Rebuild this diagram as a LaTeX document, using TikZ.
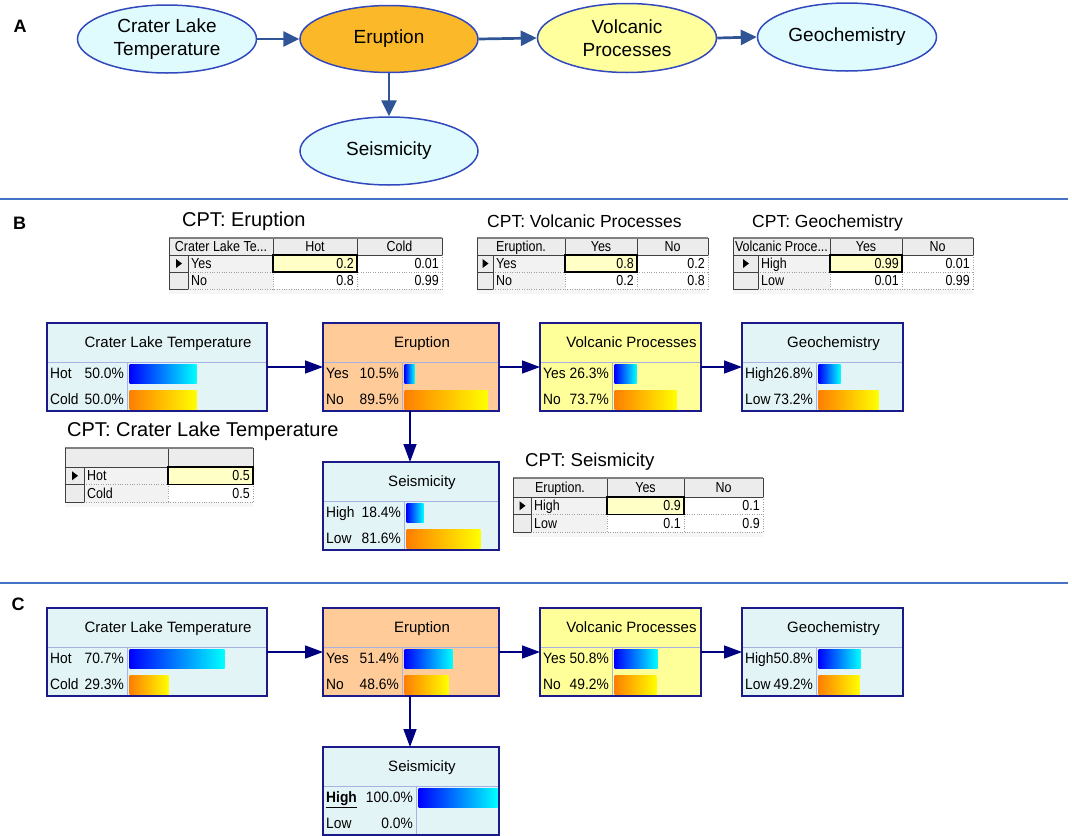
\documentclass[tikz,border=0pt]{standalone}
\usepackage{fontspec}
\setmainfont{Liberation Sans}
\newfontfamily\rowfont[FakeStretch=0.92]{Liberation Sans}
\newfontfamily\tabfont[FakeStretch=0.86]{Liberation Sans}
\usetikzlibrary{shapes.geometric,arrows.meta}

\definecolor{cyanfill}{HTML}{E3F4F7}
\definecolor{peach}{HTML}{FFCC99}
\definecolor{lyellow}{HTML}{FFFF99}
\definecolor{boxnavy}{HTML}{1A1A8A}
\definecolor{arrnavy}{HTML}{000080}
\definecolor{divlav}{HTML}{A9B1E3}
\definecolor{ellborder}{HTML}{3149BD}
\definecolor{aarrowc}{HTML}{2F5597}
\definecolor{acyan}{HTML}{DFFBFD}
\definecolor{amber}{HTML}{FBB829}
\definecolor{ayellow}{HTML}{FFFF9E}
\definecolor{sepblue}{HTML}{4472C4}
\definecolor{hdrgray}{HTML}{ECECEC}
\definecolor{lblgray}{HTML}{F2F2F2}
\definecolor{hilite}{HTML}{FFFFC6}
\definecolor{tabline}{HTML}{404040}
\definecolor{dotgray}{HTML}{A0A0A0}
\definecolor{barblue}{HTML}{0000FF}
\definecolor{barcyan}{HTML}{00FFFF}
\definecolor{barorange}{HTML}{FF7F00}
\definecolor{baryellow}{HTML}{FFFF00}

\tikzset{
  ell/.style={ellipse, draw=ellborder, line width=1.5pt, font=\fontsize{19}{23}\selectfont, align=center, inner sep=0pt},
  aarrow/.style={draw=aarrowc, line width=2.7pt, -{Triangle[length=16pt,width=15pt]}},
  barrow/.style={draw=arrnavy, line width=1.5pt, -{Triangle[length=18pt,width=13pt]}},
  bbox/.style={anchor=north west, inner sep=0pt, outer sep=0pt},
  divline/.style={draw=divlav, line width=0.9pt},
  btitle/.style={font=\fontsize{15}{18}\selectfont, inner sep=0pt},
  browtxt/.style={font=\rowfont\fontsize{15}{18}\selectfont, inner sep=0pt},
  tabtxt/.style={font=\tabfont\fontsize{14.5}{16}\selectfont, inner sep=0pt},
  panel/.style={font=\bfseries\fontsize{18}{20}\selectfont, inner sep=0pt, anchor=base},
  sepline/.style={draw=sepblue, line width=1.2pt},
  bluebar/.style={left color=barblue, right color=barcyan},
  orangebar/.style={left color=barorange, right color=baryellow},
}

% node box: name, x0, y0, x1, xdiv, fill, title
\newcommand{\bnbox}[7]{%
  \xdef\bxa{#2}\xdef\bya{#3}\xdef\bxd{#5}%
  \node[bbox, fill=#6, minimum width={#4-#2}, minimum height=88] (#1) at (#2,#3) {};
  \draw[divline] (#2,{#3+39}) -- (#4,{#3+39});
  \draw[divline] (#5,{#3+39}) -- (#5,{#3+88});
  \node[btitle, anchor=base] (#1-t) at ({(#2+#4)/2+11},{#3+24.5}) {#7};
  \draw[boxnavy, line width=1.4pt] (#1.north west) rectangle (#1.south east);
}
% state row: box name, offset, label, pct, bar width, bar style
\newcommand{\bnrow}[6]{%
  \node[browtxt, anchor=base west] (#1-l#2) at ({\bxa+3},{\bya+#2+5.5}) {#3};
  \node[browtxt, anchor=base east] (#1-p#2) at ({\bxd-3},{\bya+#2+5.5}) {#4};
  \ifnum#5>0 \shade[#6] ({\bxd+2.5},{\bya+#2-8.5}) rectangle ({\bxd+2.5+#5},{\bya+#2+10.5});\fi
}
% CPT table frame: x0, xs, xl, inner value boundaries, xr, y0, hh, rh
\newcommand{\cptframe}[8]{%
  \pgfmathsetmacro\tya{#6+#7}%
  \pgfmathsetmacro\tyb{#6+#7+#8}%
  \pgfmathsetmacro\tyc{#6+#7+2*#8}%
  \fill[hdrgray] (#1,#6) rectangle (#5,\tya);
  \fill[hdrgray] (#1,\tya) rectangle (#2,\tyc);
  \fill[lblgray] (#2,\tya) rectangle (#3,\tyc);
  \fill[hdrgray!50] (#1,\tyc) rectangle (#5,{\tyc+5});
  \draw[dotted, dotgray] (#2,\tyb) -- (#5,\tyb);
  \draw[dotted, dotgray] (#2,\tyc) -- (#5,\tyc);
  \draw[dotted, dotgray] (#5,\tya) -- (#5,\tyc);
  \draw[dotted, dotgray] (#3,\tya) -- (#3,\tyc);
  \foreach \xx in {#4} {\draw[dotted, dotgray] (\xx,\tya) -- (\xx,\tyc);
    \draw[tabline, line width=1pt] (\xx,#6) -- (\xx,\tya);}
  \draw[tabline, line width=1pt] (#1,\tya) -- (#5,\tya);
  \draw[tabline, line width=1pt] (#3,#6) -- (#3,\tya);
  \draw[tabline, line width=1pt] (#5,#6) -- (#5,\tya);
  \draw[gray, line width=1.2pt] (#1,#6) -- (#5,#6);
  \draw[tabline, line width=1pt] (#1,#6) -- (#1,\tyc);
  \draw[tabline, line width=1pt] (#2,\tya) -- (#2,\tyc);
  \draw[tabline, line width=1pt] (#1,\tyb) -- (#2,\tyb);
  \draw[tabline, line width=1pt] (#1,\tyc) -- (#2,\tyc);
  \fill[black] ({(#1+#2)/2-2.5},{\tya+#8/2-4.5}) -- ++(6,4.5) -- ++(-6,4.5) -- cycle;
}
\newcommand{\hicell}[4]{\draw[black, line width=1.2pt, fill=hilite] (#1,#2) rectangle (#3,#4);}
% table text: name, anchor, x, y(center), text
\newcommand{\tnode}[5]{\node[tabtxt, anchor=base #2] (#1) at (#3,{#4+5.2}) {#5};}

\begin{document}
\begin{tikzpicture}[x=1pt,y=-1pt]
\useasboundingbox (0,0) rectangle (1072,836);

% ---------------- Panel A ----------------
\node[panel] (labA) at (20,32.5) {A};
\node[ell, fill=acyan, minimum width=179, minimum height=68] (a-clt) at (167,39) {Crater Lake\\Temperature};
\node[ell, fill=amber, minimum width=178, minimum height=67] (a-er) at (389,39) {Eruption};
\node[ell, fill=ayellow, minimum width=179, minimum height=69] (a-vp) at (627,38) {Volcanic\\Processes};
\node[ell, fill=acyan, minimum width=179, minimum height=68] (a-geo) at (847,37) {Geochemistry};
\node[ell, fill=acyan, minimum width=178, minimum height=68] (a-seis) at (389,151) {Seismicity};
\draw[aarrow] (a-clt) -- (a-er);
\draw[aarrow] (a-er.east) -- (a-vp.west);
\draw[aarrow] (a-vp.east) -- (a-geo.west);
\draw[aarrow] (a-er) -- (a-seis);

\coordinate (s1a) at (0,199);
\coordinate (s1b) at (1068,199);
\draw[sepline] (s1a) -- (s1b);

% ---------------- Panel B ----------------
\node[panel] (labB) at (19.5,229) {B};

% CPT titles
\node[font=\fontsize{20}{22}\selectfont, inner sep=0pt, anchor=base west] (t-er) at (182,226.7) {CPT: Eruption};
\node[font=\fontsize{17.5}{20}\selectfont, inner sep=0pt, anchor=base west] (t-vp) at (487,227.8) {CPT: Volcanic Processes};
\node[font=\fontsize{17.5}{20}\selectfont, inner sep=0pt, anchor=base west] (t-geo) at (752,227.8) {CPT: Geochemistry};
\node[font=\fontsize{20}{22}\selectfont, inner sep=0pt, anchor=base west] (t-clt) at (67,436.7) {CPT: Crater Lake Temperature};
\node[font=\fontsize{18.6}{21}\selectfont, inner sep=0pt, anchor=base west] (t-seis) at (525,466.7) {CPT: Seismicity};

% Table: Eruption
\cptframe{169}{188}{273}{357}{442}{238}{17}{17}
\hicell{273}{255}{357}{272}
\tnode{t1h0}{}{221}{246.5}{Crater Lake Te...}
\tnode{t1h1}{}{315}{246.5}{Hot}
\tnode{t1h2}{}{399.5}{246.5}{Cold}
\tnode{t1r1}{west}{191}{263.5}{Yes}
\tnode{t1r1a}{east}{354}{263.5}{0.2}
\tnode{t1r1b}{east}{439}{263.5}{0.01}
\tnode{t1r2}{west}{191}{280.5}{No}
\tnode{t1r2a}{east}{354}{280.5}{0.8}
\tnode{t1r2b}{east}{439}{280.5}{0.99}

% Table: Volcanic Processes
\cptframe{477}{493}{565}{637}{708}{238}{17}{17}
\hicell{565}{255}{637}{272}
\tnode{t2h0}{}{521}{246.5}{Eruption.}
\tnode{t2h1}{}{601}{246.5}{Yes}
\tnode{t2h2}{}{672.5}{246.5}{No}
\tnode{t2r1}{west}{496}{263.5}{Yes}
\tnode{t2r1a}{east}{634}{263.5}{0.8}
\tnode{t2r1b}{east}{705}{263.5}{0.2}
\tnode{t2r2}{west}{496}{280.5}{No}
\tnode{t2r2a}{east}{634}{280.5}{0.2}
\tnode{t2r2b}{east}{705}{280.5}{0.8}

% Table: Geochemistry
\cptframe{733}{758}{830}{902}{973}{238}{17}{17}
\hicell{830}{255}{902}{272}
\tnode{t3h0}{}{781.5}{246.5}{Volcanic Proce...}
\tnode{t3h1}{}{866}{246.5}{Yes}
\tnode{t3h2}{}{937.5}{246.5}{No}
\tnode{t3r1}{west}{761}{263.5}{High}
\tnode{t3r1a}{east}{899}{263.5}{0.99}
\tnode{t3r1b}{east}{970}{263.5}{0.01}
\tnode{t3r2}{west}{761}{280.5}{Low}
\tnode{t3r2a}{east}{899}{280.5}{0.01}
\tnode{t3r2b}{east}{970}{280.5}{0.99}

% Table: Crater Lake Temperature
\cptframe{65}{84}{168}{253}{253}{448}{19}{17.5}
\hicell{168}{467}{253}{484.5}
\tnode{t4r1}{west}{87}{475.75}{Hot}
\tnode{t4r1a}{east}{250}{475.75}{0.5}
\tnode{t4r2}{west}{87}{493.25}{Cold}
\tnode{t4r2a}{east}{250}{493.25}{0.5}

% Table: Seismicity
\cptframe{513}{531}{607}{684}{763}{478}{19}{17.5}
\hicell{607}{497}{684}{514.5}
\tnode{t5h0}{}{560}{487.5}{Eruption.}
\tnode{t5h1}{}{645.5}{487.5}{Yes}
\tnode{t5h2}{}{723.5}{487.5}{No}
\tnode{t5r1}{west}{534}{505.75}{High}
\tnode{t5r1a}{east}{681}{505.75}{0.9}
\tnode{t5r1b}{east}{760}{505.75}{0.1}
\tnode{t5r2}{west}{534}{523.25}{Low}
\tnode{t5r2a}{east}{681}{523.25}{0.1}
\tnode{t5r2b}{east}{760}{523.25}{0.9}

% Node boxes B
\bnbox{b-clt}{47}{323}{267}{127}{cyanfill}{Crater Lake Temperature}
\bnrow{b-clt}{50}{Hot}{50.0\%}{67}{bluebar}
\bnrow{b-clt}{76}{Cold}{50.0\%}{67}{orangebar}
\bnbox{b-er}{323}{323}{499}{402}{peach}{Eruption}
\bnrow{b-er}{50}{Yes}{10.5\%}{10}{bluebar}
\bnrow{b-er}{76}{No}{89.5\%}{83}{orangebar}
\bnbox{b-vp}{540}{323}{701}{612}{lyellow}{Volcanic Processes}
\bnrow{b-vp}{50}{Yes}{26.3\%}{22}{bluebar}
\bnrow{b-vp}{76}{No}{73.7\%}{62}{orangebar}
\bnbox{b-geo}{742}{323}{903}{816}{cyanfill}{Geochemistry}
\bnrow{b-geo}{50}{High}{26.8\%}{22}{bluebar}
\bnrow{b-geo}{76}{Low}{73.2\%}{60}{orangebar}
\bnbox{b-seis}{323}{462}{499}{404}{cyanfill}{Seismicity}
\bnrow{b-seis}{50}{High}{18.4\%}{17}{bluebar}
\bnrow{b-seis}{76}{Low}{81.6\%}{74}{orangebar}

\draw[barrow] ([yshift=-44pt]b-clt.north east) -- ([yshift=-44pt]b-er.north west);
\draw[barrow] ([yshift=-44pt]b-er.north east) -- ([yshift=-44pt]b-vp.north west);
\draw[barrow] ([yshift=-44pt]b-vp.north east) -- ([yshift=-44pt]b-geo.north west);
\draw[barrow] ([xshift=87pt]b-er.south west) -- ([xshift=87pt]b-seis.north west);

\coordinate (s2a) at (0,583);
\coordinate (s2b) at (1068,583);
\draw[sepline] (s2a) -- (s2b);

% ---------------- Panel C ----------------
\node[panel] (labC) at (18,610.5) {C};

\bnbox{c-clt}{47}{608}{267}{127}{cyanfill}{Crater Lake Temperature}
\bnrow{c-clt}{50}{Hot}{70.7\%}{95}{bluebar}
\bnrow{c-clt}{76}{Cold}{29.3\%}{39}{orangebar}
\bnbox{c-er}{323}{608}{499}{402}{peach}{Eruption}
\bnrow{c-er}{50}{Yes}{51.4\%}{48}{bluebar}
\bnrow{c-er}{76}{No}{48.6\%}{44}{orangebar}
\bnbox{c-vp}{540}{608}{701}{612}{lyellow}{Volcanic Processes}
\bnrow{c-vp}{50}{Yes}{50.8\%}{43}{bluebar}
\bnrow{c-vp}{76}{No}{49.2\%}{42}{orangebar}
\bnbox{c-geo}{742}{608}{903}{816}{cyanfill}{Geochemistry}
\bnrow{c-geo}{50}{High}{50.8\%}{42}{bluebar}
\bnrow{c-geo}{76}{Low}{49.2\%}{41}{orangebar}
\bnbox{c-seis}{323}{747}{499}{416}{cyanfill}{Seismicity}
\bnrow{c-seis}{50}{\textbf{\underline{High}}}{100.0\%}{79}{bluebar}
\bnrow{c-seis}{76}{Low}{0.0\%}{0}{orangebar}

\draw[barrow] ([yshift=-44pt]c-clt.north east) -- ([yshift=-44pt]c-er.north west);
\draw[barrow] ([yshift=-44pt]c-er.north east) -- ([yshift=-44pt]c-vp.north west);
\draw[barrow] ([yshift=-44pt]c-vp.north east) -- ([yshift=-44pt]c-geo.north west);
\draw[barrow] ([xshift=87pt]c-er.south west) -- ([xshift=87pt]c-seis.north west);
\end{tikzpicture}
\end{document}
